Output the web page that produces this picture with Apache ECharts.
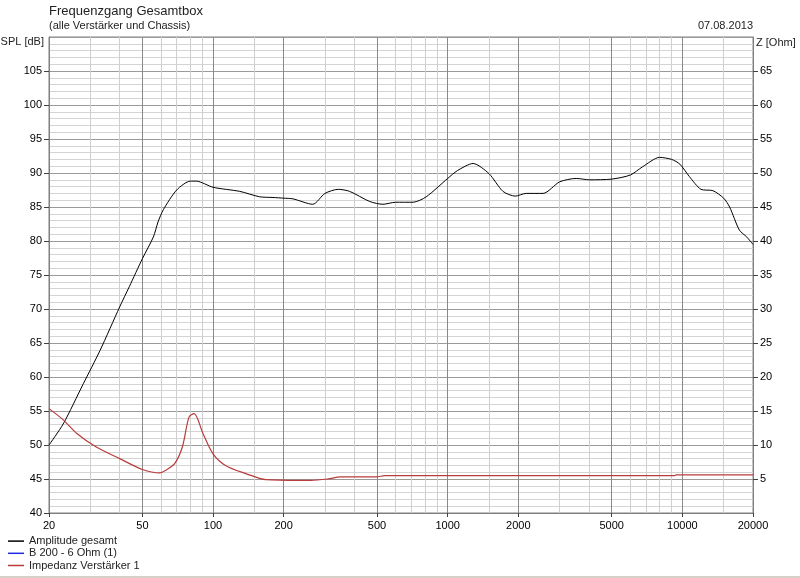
<!DOCTYPE html>
<html>
<head>
<meta charset="utf-8">
<script src="https://cdn.jsdelivr.net/npm/echarts@6/dist/echarts.min.js"></script>
<style>
html, body { margin: 0; padding: 0; background: #fff; }
#main { width: 800px; height: 578px; }
</style>
</head>
<body>
<div id="main"></div>
<script>
// Frequenzachse: beschriftete Werte und Zwischenlinien
var xLabels = [20, 50, 100, 200, 500, 1000, 2000, 5000, 10000, 20000];
var xMinor = [30, 40, 60, 70, 80, 90, 150, 300, 400, 600, 700, 800, 900, 1500, 3000, 4000, 6000, 7000, 8000, 9000, 15000];

// Amplitude gesamt (SPL in dB)
var ampFreq = [20, 23, 28, 33, 40, 44, 50, 55.7, 58.3, 61.4, 70, 80, 85, 100, 130, 158, 180, 200, 219, 266, 300,
    342, 382, 466, 530, 600, 712, 810, 1000, 1100, 1283, 1500, 1720, 1940, 2160, 2550, 3000, 3530, 4020,
    5000, 6000, 6760, 8000, 9000, 9760, 10700, 12000, 13500, 15000, 15900, 17500, 18800, 20000];
var ampDb = [50, 53.1, 59, 63.9, 70.3, 73.3, 77.4, 80.6, 82.8, 84.6, 87.5, 88.8, 88.8, 87.9, 87.3, 86.5, 86.4, 86.3, 86.2, 85.4, 87.0,
    87.6, 87.3, 85.8, 85.4, 85.7, 85.7, 86.5, 89.2, 90.35, 91.4, 89.9, 87.3, 86.6, 87.0, 87.0, 88.7, 89.2, 89.0,
    89.1, 89.7, 90.9, 92.3, 92.0, 91.3, 89.5, 87.6, 87.4, 86.3, 85.0, 81.6, 80.6, 79.5];

// B 200 - 6 Ohm (1): liegt unter der Gesamtkurve, nicht sichtbar
var b200Db = [];

// Impedanz Verstärker 1 (Ohm)
var impFreq = [20, 23, 26.3, 31.8, 40, 50, 59.4, 63, 68.6, 74, 79, 83, 90.6, 100, 113, 138, 168, 234, 261,
    308, 349, 498, 539, 9280, 9400, 20000];
var impZ = [15.35, 13.7, 11.7, 9.7, 8.0, 6.4, 5.9, 6.3, 7.25, 9.7, 14.1, 14.6, 11.7, 8.7, 7.0, 5.8, 4.9, 4.8, 4.8,
    5.0, 5.3, 5.3, 5.5, 5.5, 5.6, 5.6];

function pairs(xs, ys) {
    var out = [];
    for (var i = 0; i < xs.length && i < ys.length; i++) {
        out.push([xs[i], ys[i]]);
    }
    return out;
}

var font = 'Liberation Sans, Arial, sans-serif';
var chartDom = document.getElementById('main');
var myChart = echarts.init(chartDom);
var option;
option = {
    backgroundColor: '#fff',
    animation: false,
    textStyle: { fontFamily: font },
    title: [
        { text: 'Frequenzgang Gesamtbox', left: 49, top: 5, padding: 0,
          textStyle: { fontSize: 13, fontWeight: 'normal', color: '#222', fontFamily: font } },
        { text: '(alle Verstärker und Chassis)', left: 49, top: 20, padding: 0,
          textStyle: { fontSize: 11, fontWeight: 'normal', color: '#222', fontFamily: font } },
        { text: '07.08.2013', right: 47, top: 20, padding: 0,
          textStyle: { fontSize: 11, fontWeight: 'normal', color: '#222', fontFamily: font } },
        { text: 'SPL [dB]', right: 756, top: 36, padding: 0,
          textStyle: { fontSize: 11, fontWeight: 'normal', color: '#222', fontFamily: font } },
        { text: 'Z [Ohm]', left: 756, top: 37, padding: 0,
          textStyle: { fontSize: 11, fontWeight: 'normal', color: '#222', fontFamily: font } }
    ],
    legend: {
        orient: 'vertical',
        left: 8,
        top: 535,
        padding: 0,
        icon: 'rect',
        itemWidth: 16,
        itemHeight: 1.5,
        itemGap: 0,
        textStyle: { fontSize: 11, color: '#222', fontFamily: font, lineHeight: 12.2 },
        data: ['Amplitude gesamt', 'B 200 - 6 Ohm (1)', 'Impedanz Verstärker 1']
    },
    grid: {
        left: 49,
        right: 47,
        top: 37,
        bottom: 65,
        show: true,
        borderColor: '#808080',
        borderWidth: 1
    },
    xAxis: [
        {
            type: 'log',
            logBase: 10,
            min: 20,
            max: 20000,
            axisLine: { show: true, lineStyle: { color: '#808080' } },
            axisTick: { show: true, length: 4, customValues: xLabels, lineStyle: { color: '#404040' } },
            axisLabel: { customValues: xLabels, margin: 7, fontSize: 11, color: '#000',
                formatter: function (v) { return String(Math.round(v)); } },
            splitLine: { show: true, lineStyle: { color: '#888', width: 1 } },
            minorTick: { show: false },
            minorSplitLine: { show: false }
        },
        {
            type: 'log',
            logBase: 10,
            min: 20,
            max: 20000,
            position: 'bottom',
            axisLine: { show: false },
            axisTick: { show: false, customValues: xMinor },
            axisLabel: { show: false, customValues: xMinor },
            splitLine: { show: true, lineStyle: { color: '#cfcfcf', width: 1 } }
        }
    ],
    yAxis: [
        {
            type: 'value',
            min: 40,
            max: 110,
            interval: 5,
            position: 'left',
            axisLine: { show: true, lineStyle: { color: '#808080' } },
            axisTick: { show: true, length: 5, lineStyle: { color: '#404040' } },
            axisLabel: { showMaxLabel: false, margin: 7, fontSize: 11, color: '#000' },
            splitLine: { show: true, lineStyle: { color: '#9a9a9a', width: 1 } },
            minorTick: { show: false, splitNumber: 5 },
            minorSplitLine: { show: true, lineStyle: { color: '#d4d4d4', width: 1 } }
        },
        {
            type: 'value',
            min: 0,
            max: 70,
            interval: 5,
            position: 'right',
            axisLine: { show: true, lineStyle: { color: '#808080' } },
            axisTick: { show: true, length: 5, lineStyle: { color: '#404040' } },
            axisLabel: { showMaxLabel: false, showMinLabel: false, margin: 7, fontSize: 11, color: '#000' },
            splitLine: { show: false }
        }
    ],
    series: [
        {
            name: 'Amplitude gesamt',
            type: 'line',
            xAxisIndex: 0,
            yAxisIndex: 0,
            symbol: 'none',
            smooth: 0.25,
            z: 3,
            color: '#000',
            lineStyle: { color: '#000', width: 1 },
            data: pairs(ampFreq, ampDb)
        },
        {
            name: 'B 200 - 6 Ohm (1)',
            type: 'line',
            xAxisIndex: 0,
            yAxisIndex: 0,
            symbol: 'none',
            smooth: 0.25,
            z: 2,
            color: '#1f2fe0',
            lineStyle: { color: '#1f2fe0', width: 1 },
            data: pairs(ampFreq, b200Db)
        },
        {
            name: 'Impedanz Verstärker 1',
            type: 'line',
            xAxisIndex: 0,
            yAxisIndex: 1,
            symbol: 'none',
            smooth: 0.3,
            z: 4,
            color: '#b83c3c',
            lineStyle: { color: '#b83c3c', width: 1.2 },
            data: pairs(impFreq, impZ)
        }
    ],
    graphic: [
        { type: 'rect', left: 0, top: 576, shape: { width: 800, height: 2 }, style: { fill: '#d4d0c8' }, silent: true }
    ]
};
option && myChart.setOption(option);
</script>
</body>
</html>
